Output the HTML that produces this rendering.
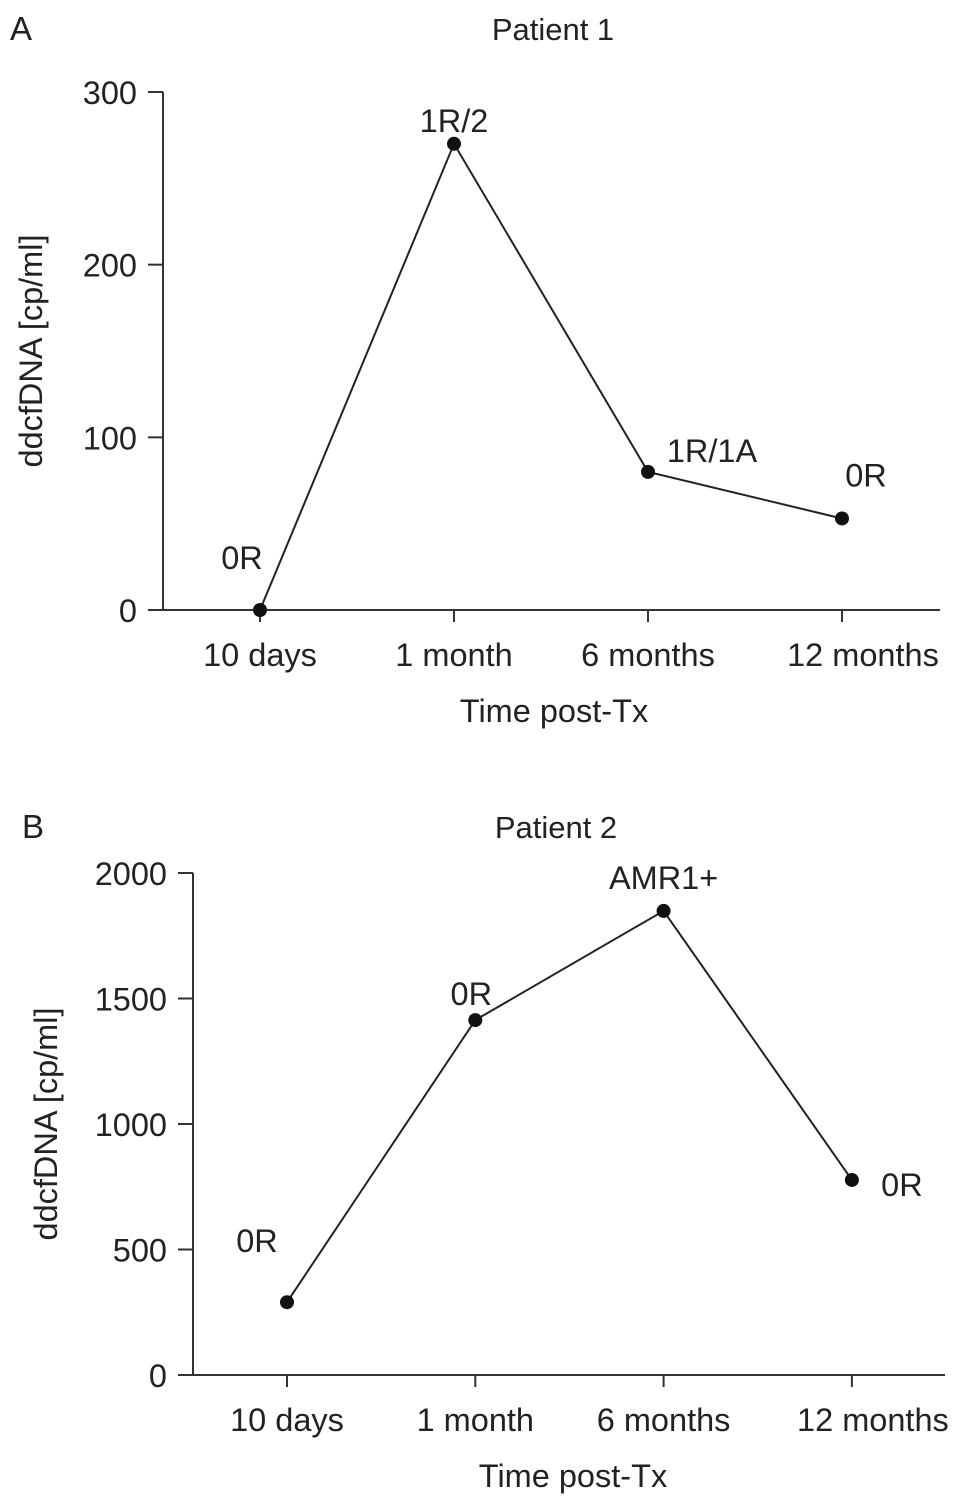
<!DOCTYPE html>
<html><head><meta charset="utf-8"><style>body{margin:0;background:#fff}svg text{font-family:"Liberation Sans",sans-serif;fill:#222}</style></head>
<body>
<svg id="s" width="969" height="1502" viewBox="0 0 969 1502">
<text x="10" y="40" font-size="33">A</text>
<text x="22" y="838" font-size="33">B</text>
</svg>
<script>
const categories=["10 days","1 month","6 months","12 months"];
const valuesA=[0,270,80,53];
const labelsA=["0R","1R/2","1R/1A","0R"];
const ticksA=[0,100,200,300];
const valuesB=[290,1414,1849,777];
const labelsB=["0R","0R","AMR1+","0R"];
const ticksB=[0,500,1000,1500,2000];
const svg=document.getElementById('s');
const NS='http://www.w3.org/2000/svg';
function mk(t,a,p){const e=document.createElementNS(NS,t);for(const k in a)e.setAttribute(k,a[k]);(p||svg).appendChild(e);return e;}
const FS=32.5;
function chart(cfg){
  const g=mk('g',{});
  
  
  const y=v=>cfg.y0-(v/cfg.max)*(cfg.y0-cfg.y1);
  const x=i=>cfg.xs+i*cfg.dx;
  const t=mk('text',{x:cfg.titleX,y:cfg.titleY,'font-size':31,'text-anchor':'middle'},g);t.textContent=cfg.title;
  
  
  const ya=mk('line',{x1:cfg.ax,y1:cfg.y1,x2:cfg.ax,y2:cfg.y0,stroke:'#333','stroke-width':2},g);
  
  
  const xa=mk('line',{x1:cfg.ax-15,y1:cfg.y0,x2:cfg.ar,y2:cfg.y0,stroke:'#333','stroke-width':2},g);
  
  
  cfg.ticks.forEach(v=>{
    mk('line',{x1:cfg.ax-15,y1:y(v),x2:cfg.ax,y2:y(v),stroke:'#333','stroke-width':2},g);
    const tl=mk('text',{x:cfg.ax-26,y:y(v)+12,'font-size':FS,'text-anchor':'end'},g);tl.textContent=v;
    
    
  });
  categories.forEach((c,i)=>{
    mk('line',{x1:x(i),y1:cfg.y0,x2:x(i),y2:cfg.y0+12,stroke:'#333','stroke-width':2},g);
    const shift=(i===categories.length-1)?21:0;
    const tl=mk('text',{x:x(i)+shift,y:cfg.y0+56,'font-size':FS,'text-anchor':'middle'},g);tl.textContent=c;
    
    
  });
  const xt=mk('text',{x:cfg.xtX,y:cfg.y0+112,'font-size':FS,'text-anchor':'middle'},g);xt.textContent='Time post-Tx';
  
  
  const cy=(cfg.y0+cfg.y1)/2;
  const yt=mk('text',{x:0,y:0,'font-size':FS,'text-anchor':'middle',transform:`translate(${cfg.ytX},${cy}) rotate(-90)`},g);yt.textContent='ddcfDNA [cp/ml]';
  
  
  const pl=mk('polyline',{points:cfg.vals.map((v,i)=>x(i)+','+y(v)).join(' '),fill:'none',stroke:'#222','stroke-width':2},g);
  
  
  cfg.vals.forEach((v,i)=>{
    const c=mk('circle',{cx:x(i),cy:y(v),r:7,fill:'#111'},g);
    
    
    const o=cfg.off[i];
    const l=mk('text',{x:x(i)+o[0],y:y(v)+o[1],'font-size':FS,'text-anchor':'middle'},g);l.textContent=cfg.labels[i];
    
    
  });
}
chart({name:'chart-patient-1',title:'Patient 1',titleX:553,titleY:40,xtX:554,ytX:42,ax:163,ar:940,y0:610,y1:92,max:300,xs:260,dx:194,vals:valuesA,labels:labelsA,ticks:ticksA,
  off:[[-18,-41],[0,-12],[64,-10],[24,-32]]});
chart({name:'chart-patient-2',title:'Patient 2',titleX:556,titleY:838,xtX:573,ytX:57,ax:193,ar:945,y0:1375,y1:873,max:2000,xs:287,dx:188.3,vals:valuesB,labels:labelsB,ticks:ticksB,
  off:[[-30,-50],[-4,-15],[0,-22],[50,16]]});
</script>
</body></html>
